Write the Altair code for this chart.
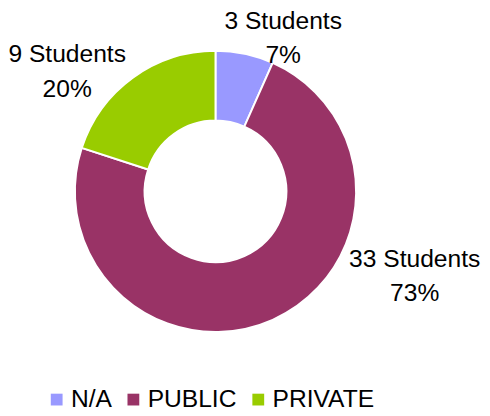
import altair as alt
import pandas as pd

categories = ["N/A", "PUBLIC", "PRIVATE"]
students = [3, 33, 9]
percents = ["7%", "73%", "20%"]
colors = ["#9999FF", "#993366", "#99CC00"]

df = pd.DataFrame({
    "cat": categories,
    "students": students,
    "pct": percents,
    "order": list(range(len(categories))),
})
df["label"] = [f"{s} Students\n{p}" for s, p in zip(students, percents)]

FONT = "Liberation Sans"

theta = alt.Theta("students:Q", stack=True)
order = alt.Order("order:Q")

arc = alt.Chart(df).mark_arc(
    radius=143, innerRadius=72, stroke="white", strokeWidth=2
).encode(
    theta=theta,
    order=order,
    color=alt.Color(
        "cat:N",
        scale=alt.Scale(domain=categories, range=colors),
        sort=categories,
        legend=alt.Legend(
            title=None,
            orient="none",
            direction="horizontal",
            legendX=37,
            legendY=382,
            symbolType="square",
            symbolSize=144,
            symbolStrokeWidth=0,
            labelFont=FONT,
            labelFontSize=25,
            labelColor="black",
            labelOffset=2,
            columnPadding=9,
            padding=0,
        ),
    ),
)

# per-label placement (radius px, angular offset rad from slice middle, dy)
label_style = {
    "N/A": (177, 0.19, -10),
    "PUBLIC": (220, -0.751, -17),
    "PRIVATE": (194, -0.262, -17),
}

layers = [arc]
for cat, (r, toff, dy) in label_style.items():
    t = alt.Chart(df).transform_calculate(
        txt=f"datum.cat === '{cat}' ? datum.label : ''"
    ).mark_text(
        font=FONT, fontSize=25, color="black", lineBreak="\n",
        lineHeight=35, align="center", baseline="middle", thetaOffset=toff,
        dy=dy,
    ).encode(
        theta=theta,
        order=order,
        radius=alt.value(r),
        text="txt:N",
    )
    layers.append(t)

chart = alt.layer(*layers).properties(
    width=422,
    height=366,
    autosize=alt.AutoSizeParams(type="none"),
    padding={"left": 0, "top": 0, "right": 60, "bottom": 42},
).configure_view(stroke=None)

chart.save("out.html", embed_options={"renderer": "svg", "actions": False})
